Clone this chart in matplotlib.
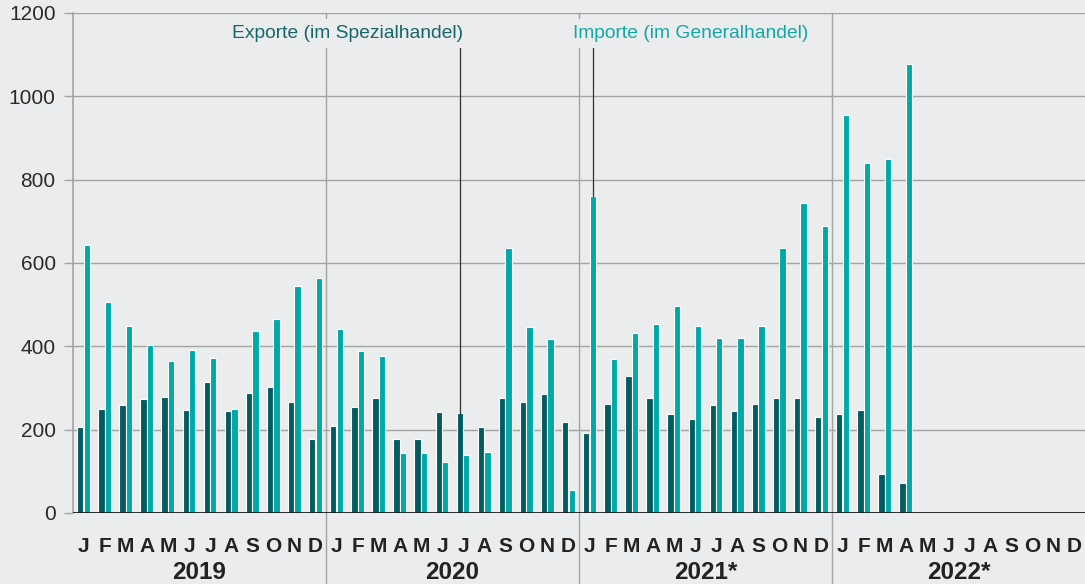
import matplotlib
matplotlib.use("Agg")
import matplotlib.pyplot as plt
import matplotlib.transforms as mtransforms
import numpy as np

plt.rcParams['font.family'] = ['Liberation Sans', 'DejaVu Sans']

years = ["2019", "2020", "2021*", "2022*"]
months = ["J", "F", "M", "A", "M", "J", "J", "A", "S", "O", "N", "D"]

exports = [206, 249, 259, 273, 278, 247, 314, 244, 287, 302, 267, 177,
           210, 255, 276, 177, 177, 243, 239, 206, 277, 266, 285, 218,
           193, 261, 328, 276, 238, 225, 260, 245, 261, 276, 277, 231,
           237, 247, 93, 72]
imports = [644, 506, 449, 403, 364, 392, 372, 250, 437, 465, 544, 563,
           441, 388, 376, 143, 144, 122, 139, 147, 635, 447, 418, 55,
           761, 370, 431, 453, 496, 449, 421, 421, 450, 635, 745, 689,
           955, 839, 849, 1077]
yticks = [0, 200, 400, 600, 800, 1000, 1200]

label_exp = "Exporte (im Spezialhandel)"
label_imp = "Importe (im Generalhandel)"

bg = "#EBECEE"
c_exp = "#005C61"
c_imp = "#00A8A8"
grid_c = "#A3A3A3"

fig = plt.figure(figsize=(10.85, 5.84), dpi=100, facecolor=bg)
ax = fig.add_axes([73/1085, 71/584, 1 - 73/1085, 500/584])
ax.set_facecolor(bg)

nslots = len(years) * 12
ax.set_xlim(0, nslots)
ax.set_ylim(0, 1200)

xe = np.arange(len(exports)) + 0.5 - 0.155
xi = np.arange(len(imports)) + 0.5 + 0.155
ax.bar(xe, exports, width=0.30, color=c_exp, edgecolor="white", linewidth=0.8, zorder=3)
ax.bar(xi, imports, width=0.30, color=c_imp, edgecolor="white", linewidth=0.8, zorder=3)

# grid
ax.set_yticks(yticks)
ax.set_yticklabels([str(v) for v in yticks], fontsize=15, color="#2a2a2a")
ax.tick_params(axis="y", length=6.5, width=1, color=grid_c, pad=6)
for v in yticks[1:]:
    ax.axhline(v, color=grid_c, lw=1, zorder=1)
ax.axhline(0, color="#1a1a1a", lw=2, zorder=5)

for s in ["top", "right", "bottom"]:
    ax.spines[s].set_visible(False)
ax.spines["left"].set_color(grid_c)
ax.spines["left"].set_linewidth(1.2)

ax.set_xticks([])

trans = mtransforms.blended_transform_factory(ax.transData, ax.transAxes)
# year separators
for k in range(1, len(years)):
    ax.plot([k*12, k*12], [-0.15, 1.0], transform=trans, color=grid_c, lw=1,
            clip_on=False, zorder=1)

# month and year labels
for k, y in enumerate(years):
    for m, lab in enumerate(months):
        ax.text(k*12 + m + 0.5, -39/500, lab, transform=trans, ha="center", va="baseline",
                fontsize=15, fontweight="bold", color="#222222")
    ax.text(k*12 + 6, -66/500, y, transform=trans, ha="center", va="baseline",
            fontsize=17.5, fontweight="bold", color="#222222")

# annotations
ie = 18
ii = 24
ax.plot([xe[ie], xe[ie]], [exports[ie], 1121], color="#333333", lw=0.9, zorder=4)
ax.plot([xi[ii], xi[ii]], [imports[ii], 1121], color="#333333", lw=0.9, zorder=4)
bb = dict(boxstyle="square,pad=0.3", fc=bg, ec="none")
ax.text(18.5, 1140, label_exp, ha="right", va="baseline", fontsize=13.9,
        color="#17666A", bbox=bb, zorder=6)
ax.text(23.72, 1140, label_imp, ha="left", va="baseline", fontsize=13.9,
        color="#13A7A7", bbox=bb, zorder=6)

fig.savefig("out.png", dpi=100, facecolor=bg)
